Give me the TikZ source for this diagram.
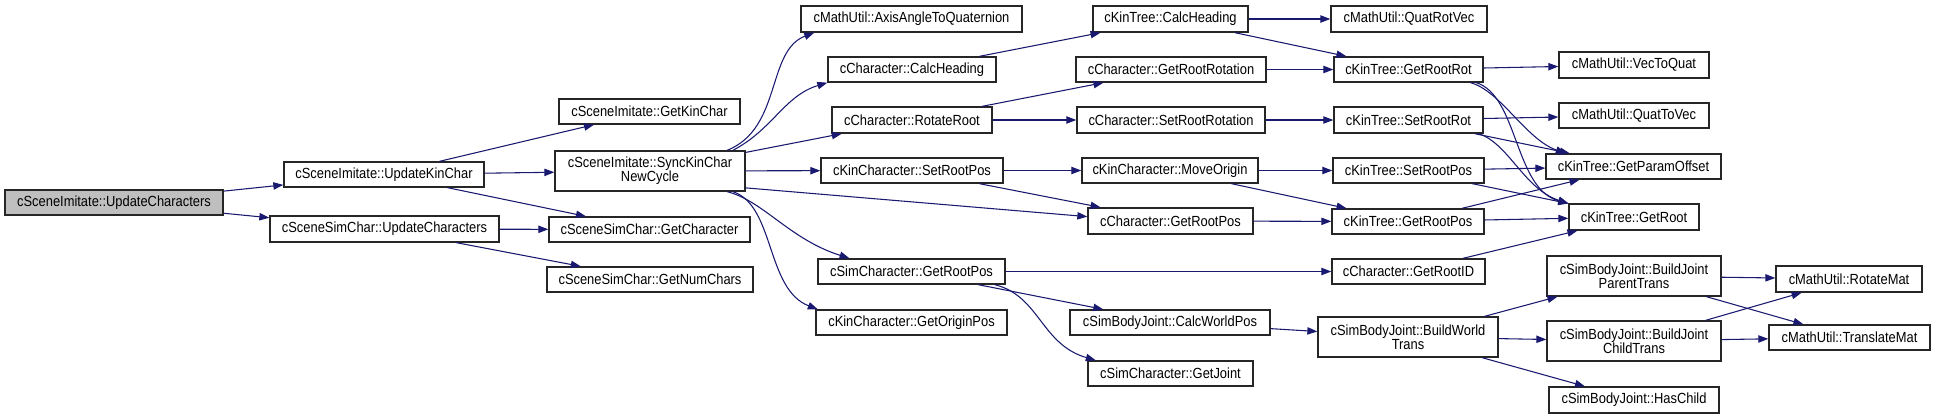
\documentclass[tikz,border=0pt]{standalone}
\usepackage{fontspec}
\setmainfont[FakeStretch=0.88]{Liberation Sans}
\usetikzlibrary{arrows.meta}
\usetikzlibrary{positioning}

\definecolor{edgeblue}{HTML}{191970}
\definecolor{rootgray}{HTML}{BFBFBF}

\begin{document}
\begin{tikzpicture}[x=0.75pt, y=-0.75pt, font=\fontsize{11}{10.75}\selectfont,
  fn/.style={draw=black!85, line width=1pt, fill=white, inner sep=1pt, align=center},
  call/.style={draw=edgeblue, line width=0.8pt, -{Triangle[length=7.5pt,width=5.5pt]}}]

  \useasboundingbox (0,0) rectangle (1935,419);

	%caller
  \node[fn, fill=rootgray, minimum width=218*0.75pt, minimum height=25*0.75pt] (root) at (114,202.5) {cSceneImitate::UpdateCharacters};

	%callees, column by column
    \foreach \name/\cx/\cy/\w/\h/\txt in {
        ukc/384/174.5/200/25/{cSceneImitate::UpdateKinChar},
        suc/384.5/229/229/26/{cSceneSimChar::UpdateCharacters},
        gkc/649.5/111.5/181/25/{cSceneImitate::GetKinChar},
        sync/650/171/190/40/{cSceneImitate::SyncKinChar\\NewCycle},
        gch/649.5/229.5/201/25/{cSceneSimChar::GetCharacter},
        gnc/650/279.5/206/25/{cSceneSimChar::GetNumChars},
        aaq/911.5/19/221/26/{cMathUtil::AxisAngleToQuaternion},
        cch/912/69.5/168/25/{cCharacter::CalcHeading},
        rr/912/120/160/26/{cCharacter::RotateRoot},
        ksrp/912/170.5/182/25/{cKinCharacter::SetRootPos},
        sgrp/911.5/271.5/187/25/{cSimCharacter::GetRootPos},
        gop/911.5/322.5/191/25/{cKinCharacter::GetOriginPos},
        kch/1170.5/19/155/26/{cKinTree::CalcHeading},
        grr/1171/69.5/190/25/{cCharacter::GetRootRotation},
        srr/1171/120/188/26/{cCharacter::SetRootRotation},
        mo/1170/170.5/176/25/{cKinCharacter::MoveOrigin},
        cgrp/1170.5/221/165/26/{cCharacter::GetRootPos},
        cwp/1170/322.5/200/25/{cSimBodyJoint::CalcWorldPos},
        gj/1170.5/373.5/165/25/{cSimCharacter::GetJoint},
        qrv/1409/19/156/26/{cMathUtil::QuatRotVec},
        kgrr/1408.5/69.5/149/25/{cKinTree::GetRootRot},
        ksrr/1408.5/120/149/26/{cKinTree::SetRootRot},
        ktsrp/1408.5/170.5/151/25/{cKinTree::SetRootPos},
        kgrp/1408/221.5/152/25/{cKinTree::GetRootPos},
        grid/1408.5/271.5/153/25/{cCharacter::GetRootID},
        bwt/1408/337/180/40/{cSimBodyJoint::BuildWorld\\Trans},
        v2q/1634/65/150/26/{cMathUtil::VecToQuat},
        q2v/1634/115.5/150/25/{cMathUtil::QuatToVec},
        gpo/1633.5/166.5/175/25/{cKinTree::GetParamOffset},
        groot/1634/217/130/26/{cKinTree::GetRoot},
        bjpt/1634/276/174/40/{cSimBodyJoint::BuildJoint\\ParentTrans},
        bjct/1634/341/174/40/{cSimBodyJoint::BuildJoint\\ChildTrans},
        hc/1634/400/170/26/{cSimBodyJoint::HasChild},
        rm/1849/279/146/26/{cMathUtil::RotateMat},
        tm/1849.5/337.5/161/25/{cMathUtil::TranslateMat}}{
         \node[fn, minimum width=\w*0.75pt, minimum height=\h*0.75pt] (\name) at (\cx,\cy) {\txt};
    }

	%straight calls
    \foreach \a/\b in {root/ukc, root/suc, ukc/gkc, ukc/sync, ukc/gch, suc/gch, suc/gnc,
        sync/rr, sync/ksrp, cch/kch, rr/grr, rr/srr, ksrp/mo, ksrp/cgrp,
        kch/qrv, kch/kgrr, grr/kgrr, srr/ksrr, mo/ktsrp, mo/kgrp, cgrp/kgrp,
        sgrp/grid, sgrp/cwp, kgrr/v2q, ksrr/q2v, ksrr/gpo, ktsrp/gpo, ktsrp/groot,
        kgrp/gpo, kgrp/groot, grid/groot, cwp/bwt, bwt/bjpt, bwt/bjct, bwt/hc,
        bjpt/rm, bjpt/tm, bjct/rm, bjct/tm}{
           \draw[call] (\a) -- (\b);
    }
    \draw[call] (sync.-10) -- (cgrp.177);

	%curved calls
    \draw[call] (sync.15) .. controls +(55,-22) and +(-48,18) .. (aaq.188);
    \draw[call] (sync.14) .. controls +(40,-21) and +(-43,13) .. (cch.south west);
    \draw[call] (sync.-15) .. controls +(36,9) and +(-60,-19) .. (sgrp.168);
    \draw[call] (sync.-14) .. controls +(42,14) and +(-52,-20) .. (gop.172);
    \draw[call] (sgrp.-9) .. controls +(45,11) and +(-55,-16) .. (gj.170);
    \draw[call] (kgrr.-12) .. controls +(30,8) and +(-40,-14) .. (gpo.169);
    \draw[call] (kgrr.-11) .. controls +(42,13) and +(-54,-14) .. (groot.north west);
    \draw[call] (ksrr.-11) .. controls +(30,10) and +(-44,-14) .. (groot.north west);

\end{tikzpicture}
\end{document}
